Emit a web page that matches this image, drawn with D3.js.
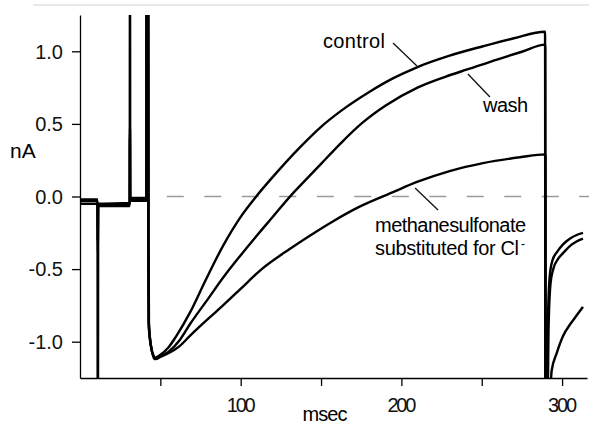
<!DOCTYPE html>
<html>
<head>
<meta charset="utf-8">
<script src="https://cdnjs.cloudflare.com/ajax/libs/d3/7.8.5/d3.min.js"></script>
<style>
  body { margin: 0; background: #fff; }
  svg { display: block; font-family: "Liberation Sans", Arial, sans-serif; }
  .trace { fill: none; stroke: #000; stroke-width: 2.4; stroke-linejoin: round; }
  .axis path, .axis line { stroke: #000; stroke-width: 1.3; }
  .axis text { font-size: 20px; fill: #111; }
</style>
</head>
<body>
<svg id="chart" width="589" height="424"></svg>
<script>
// x ticks (msec) and y ticks (nA)
const xTicks = [50, 100, 150, 200, 250, 300];
const xLabels = [100, 200, 300];
const yTicks = [-1, -0.5, 0, 0.5, 1];

// traces, [msec, nA]; +-1.4 means off scale
const control = [
  [0, -0.03], [10.9, -0.03], [11.0, -1.4], [11.2, -1.4], [11.3, -0.06], [20, -0.055], [30.95, -0.055],
  [31.05, 1.4], [31.15, 1.4], [31.25, -0.02], [41.2, -0.02], [41.3, 1.4], [42.6, 1.4], [42.7, -0.3],
  [42.9, -0.87], [44, -1.02], [45.5, -1.09], [46.7, -1.11], [50, -1.09], [55, -1.04], [60, -0.96],
  [68.4, -0.80], [78, -0.58], [89, -0.34], [100, -0.14], [110, 0.005], [120, 0.135], [137, 0.34],
  [150, 0.48], [163.7, 0.60], [180, 0.72], [195, 0.815], [209.7, 0.89], [230, 0.97], [250.8, 1.035],
  [270, 1.09], [289.4, 1.135], [289.6, -1.4], [290.6, -1.4], [291.2, -0.85], [292.3, -0.55],
  [294, -0.44], [297, -0.38], [300.6, -0.33], [305, -0.29], [309, -0.265], [313, -0.25]
];
const wash = [
  [0, -0.05], [10.9, -0.05], [11.05, -0.38], [11.15, -0.38], [11.3, -0.065], [30.95, -0.065],
  [31.05, 0.47], [31.15, 0.45], [31.25, -0.03], [41.4, -0.03], [41.5, 1.4], [42.4, 1.4], [42.5, -0.3],
  [42.7, -0.85], [44.2, -1.03], [45.8, -1.1], [47.5, -1.12], [50, -1.1], [55, -1.07], [62, -0.99],
  [68.4, -0.88], [80, -0.70], [89, -0.56], [99.6, -0.41], [110, -0.27], [120, -0.14], [131.9, 0.015],
  [137, 0.075], [150, 0.225], [163, 0.375], [176, 0.51], [190, 0.625], [210, 0.75], [230, 0.835],
  [241, 0.875], [260, 0.945], [275, 0.997], [289.5, 1.046], [289.7, -1.4], [291, -1.4], [291.6, -0.9],
  [292.8, -0.6], [294.5, -0.5], [297.5, -0.43], [300.6, -0.39], [305, -0.34], [309, -0.31], [313, -0.29]
];
const methane = [
  [0, -0.02], [10.9, -0.02], [11.05, -0.3], [11.25, -0.05], [30.95, -0.045], [31.05, 0.4],
  [31.2, -0.01], [41.6, -0.01], [41.75, 1.4], [42.2, 1.4], [42.35, 0.75], [42.5, -0.4], [42.8, -0.9],
  [44.5, -1.05], [46.5, -1.12], [49, -1.11], [55, -1.08], [62, -1.03], [68.4, -0.96], [80, -0.84],
  [90, -0.74], [99.6, -0.64], [112, -0.51], [130.7, -0.36], [143, -0.27], [156.8, -0.175],
  [174, -0.07], [194.8, 0.03], [209.7, 0.10], [230, 0.175], [250.8, 0.23], [273.8, 0.27],
  [289.6, 0.29], [289.8, -1.4], [292.2, -1.4], [293.5, -1.2], [296.6, -1.08], [300.6, -0.96],
  [305, -0.88], [309, -0.82], [313, -0.76]
];

const svg = d3.select('#chart');
const x = d3.scaleLinear().domain([0, 315.5]).range([80, 587]);
const y = d3.scaleLinear().domain([-1.25, 1.25]).range([378, 15]);

// faint frame line at the top of the scan
svg.append('line')
  .attr('x1', 33).attr('x2', 589).attr('y1', 5).attr('y2', 5)
  .attr('stroke', '#e2e2e2').attr('stroke-width', 1.5);

svg.append('clipPath').attr('id', 'plot')
  .append('rect').attr('x', 80).attr('y', 15).attr('width', 509).attr('height', 363);

// zero reference
svg.append('line')
  .attr('x1', x(54)).attr('x2', 589)
  .attr('y1', y(0)).attr('y2', y(0))
  .attr('stroke', '#9a9a9a').attr('stroke-width', 1.3)
  .attr('stroke-dasharray', '17,20.5');

const line = d3.line()
  .x(d => x(d[0]))
  .y(d => y(d[1]))
  .curve(d3.curveMonotoneX);

const g = svg.append('g').attr('clip-path', 'url(#plot)');
[methane, wash, control].forEach(s => {
  g.append('path').attr('class', 'trace').attr('d', line(s));
});

// axes
const yAxis = d3.axisLeft(y)
  .tickValues(yTicks)
  .tickFormat(d => d.toFixed(1))
  .tickSize(8).tickSizeOuter(0).tickPadding(9);
svg.append('g').attr('class', 'axis')
  .attr('transform', 'translate(80,0)')
  .call(yAxis)
  .call(a => a.selectAll('text').attr('dy', '0.34em'));

const xAxis = d3.axisBottom(x)
  .tickValues(xTicks)
  .tickFormat(d => xLabels.includes(d) ? d : '')
  .tickSize(8).tickSizeOuter(0).tickPadding(12);
svg.append('g').attr('class', 'axis')
  .attr('transform', 'translate(0,378)')
  .call(xAxis)
  .call(a => a.selectAll('text').filter(d => xLabels.includes(d))
    .attr('textLength', 29).attr('lengthAdjust', 'spacing'));

svg.append('text')
  .attr('x', 10).attr('y', 158)
  .attr('font-size', 21)
  .text('nA');

svg.append('text')
  .attr('x', 325).attr('y', 421)
  .attr('text-anchor', 'middle')
  .attr('font-size', 20)
  .attr('textLength', 45).attr('lengthAdjust', 'spacing')
  .text('msec');

// annotations
const labels = [
  { text: 'control', t: 151.2, v: 1.023, w: 62, lead: [[194.8, 1.057], [209.7, 0.899]] },
  { text: 'wash', t: 250.8, v: 0.582, w: 45, lead: [[241.4, 0.844], [255.1, 0.685]] },
  { text: 'methanesulfonate', t: 183.6, v: -0.244, w: 151, lead: [[208.5, 0.059], [222.8, -0.093]] },
  { text: 'substituted for Cl', t: 183.6, v: -0.403, w: 144, lead: null }
];
labels.forEach(l => {
  svg.append('text')
    .attr('x', x(l.t)).attr('y', y(l.v))
    .attr('font-size', 20)
    .attr('textLength', l.w).attr('lengthAdjust', 'spacing')
    .text(l.text);
  if (l.lead) {
    svg.append('line')
      .attr('x1', x(l.lead[0][0])).attr('y1', y(l.lead[0][1]))
      .attr('x2', x(l.lead[1][0])).attr('y2', y(l.lead[1][1]))
      .attr('stroke', '#111').attr('stroke-width', 1.3);
  }
});
// superscript minus on Cl
svg.append('text')
  .attr('x', x(183.6) + 146).attr('y', y(-0.403) - 7)
  .attr('font-size', 12)
  .text('-');
</script>
</body>
</html>
